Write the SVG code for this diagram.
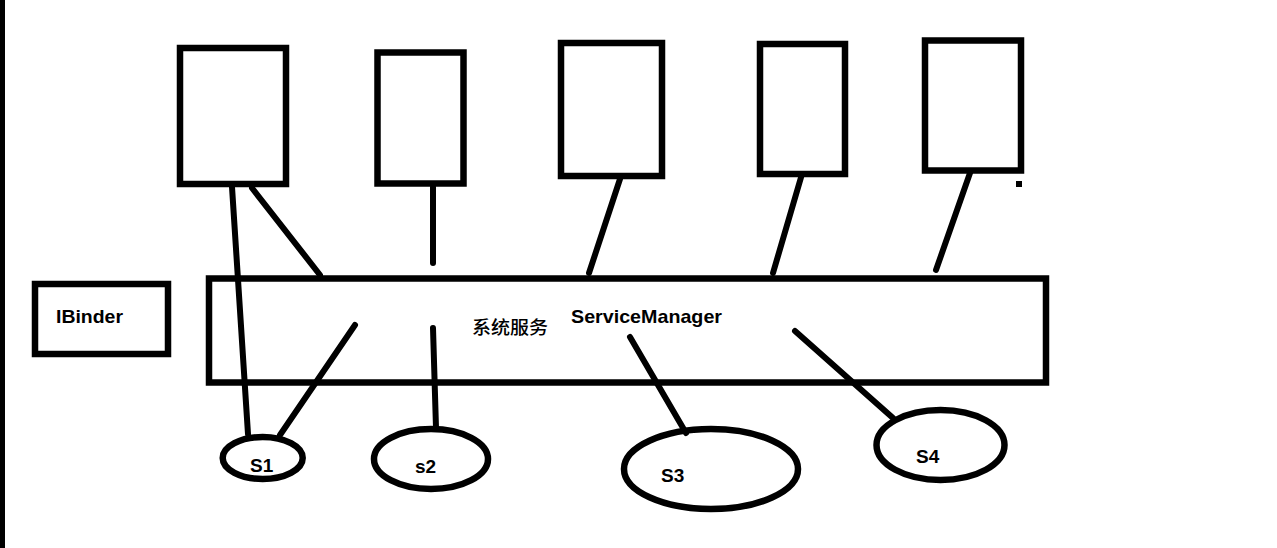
<svg xmlns="http://www.w3.org/2000/svg" width="1277" height="548" viewBox="0 0 1277 548">
<style>
.box{fill:none;stroke:#000;stroke-width:6.5}
.ell{fill:none;stroke:#000;stroke-width:6.5}
.conn{stroke:#000;stroke-width:6;stroke-linecap:round;fill:none}
.lbl{font-family:"Liberation Sans","Noto Sans CJK SC",sans-serif;font-weight:bold;font-size:19px;fill:#000}
.cjk{font-family:"Noto Sans CJK SC","Liberation Sans",sans-serif;font-weight:500;font-size:18px;fill:#000}
</style>
<rect x="0" y="0" width="1277" height="548" fill="#fff"/>
<rect x="0" y="0" width="5" height="548" fill="#000"/>
<g id="client1"><rect class="box" x="180" y="48" width="106" height="136"/></g>
<g id="client2"><rect class="box" x="377.5" y="52.5" width="86" height="131"/></g>
<g id="client3"><rect class="box" x="561" y="43" width="101" height="133"/></g>
<g id="client4"><rect class="box" x="760" y="44" width="85" height="130"/></g>
<g id="client5"><rect class="box" x="925" y="40.5" width="96" height="130"/></g>
<rect x="1016" y="181" width="6" height="6" fill="#000"/>
<g id="ibinder"><rect class="box" x="35" y="284" width="133" height="70"/><text class="lbl" x="56" y="323" textLength="67" lengthAdjust="spacingAndGlyphs">IBinder</text></g>
<g id="servicemanager"><rect class="box" x="209" y="278.5" width="837" height="104"/>
<text class="cjk" x="472" y="334" textLength="76" lengthAdjust="spacingAndGlyphs">系统服务</text>
<text class="lbl" x="571" y="323" textLength="151" lengthAdjust="spacingAndGlyphs">ServiceManager</text></g>
<g id="s1"><ellipse class="ell" cx="262.7" cy="458" rx="40" ry="21"/><text class="lbl" x="250" y="472">S1</text></g>
<g id="s2"><ellipse class="ell" cx="431" cy="459" rx="57" ry="30"/><text class="lbl" x="415" y="473">s2</text></g>
<g id="s3"><ellipse class="ell" cx="711" cy="469" rx="87" ry="40"/><text class="lbl" x="661" y="482">S3</text></g>
<g id="s4"><ellipse class="ell" cx="940.5" cy="445" rx="64" ry="35"/><text class="lbl" x="916" y="463">S4</text></g>
<g id="connectors">
<line class="conn" x1="232" y1="187" x2="248" y2="434"/>
<line class="conn" x1="252" y1="188" x2="320" y2="275"/>
<line class="conn" x1="433" y1="187" x2="433" y2="263"/>
<line class="conn" x1="620" y1="179" x2="589" y2="273"/>
<line class="conn" x1="802" y1="174" x2="773" y2="273"/>
<line class="conn" x1="970" y1="173" x2="936" y2="270"/>
<line class="conn" x1="355" y1="325" x2="280" y2="435"/>
<line class="conn" x1="433" y1="328" x2="436" y2="428"/>
<line class="conn" x1="630" y1="337" x2="686" y2="433"/>
<line class="conn" x1="795" y1="331" x2="893" y2="418"/>
</g>
</svg>
